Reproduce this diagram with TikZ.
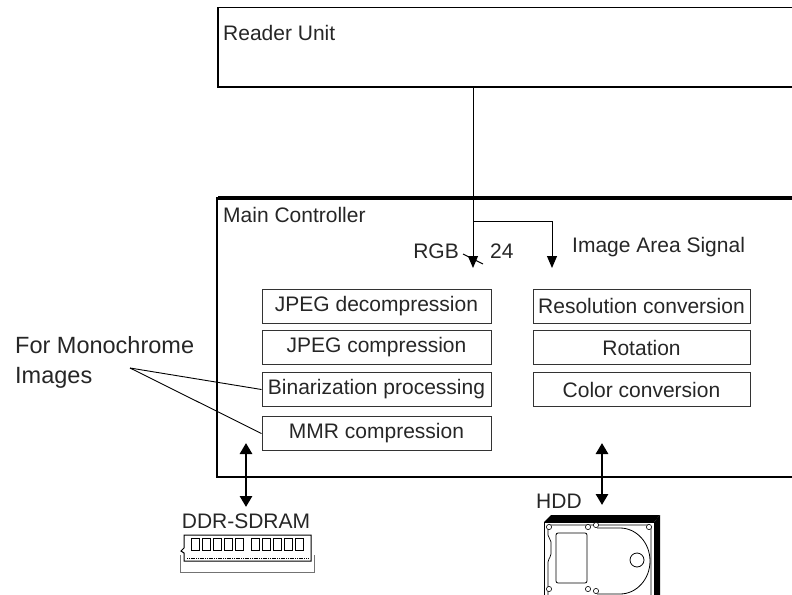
\documentclass[tikz,border=0pt]{standalone}
\usepackage{fontspec}
\setmainfont{Liberation Sans}
\usetikzlibrary{arrows.meta}

\begin{document}
\begin{tikzpicture}[x=1pt,y=-1pt,
  every node/.style={font=\fontsize{21}{24}\selectfont, inner sep=0pt, text=black!85},
  procbox/.style={draw=black!80, line width=1pt, minimum height=34pt},
  leftbox/.style={procbox, minimum width=229pt},
  rightbox/.style={procbox, minimum width=217pt},
  sig/.style={line width=1pt, -{Triangle[length=12pt,width=10pt]}},
  busarrow/.style={line width=2.8pt, {Triangle[length=11pt,width=12pt]}-{Triangle[length=11pt,width=12pt]}}]
\useasboundingbox (0,0) rectangle (792,594);
\clip (0,0) rectangle (792,594);

\node[draw, line width=1.5pt, anchor=north west, minimum width=600pt, minimum height=79pt] (reader) at (217,7) {};
\node[anchor=base west] (readerlbl) at (223,41) {Reader Unit};

\draw[line width=1.5pt] (800,198) -- (217,198) -- (217,477) -- (800,477);
\draw[line width=3.5pt] (218,198) -- (800,198);
\node[anchor=base west] (mainlbl) at (223,222) {Main Controller};

\coordinate (rgbin) at (473,86);
\coordinate (branch) at (473,221);
\coordinate (rgbtip) at (473,268);
\coordinate (areatip) at (552,268);
\draw[sig] (rgbin) -- (rgbtip);
\draw[sig] (branch) -| (areatip);
\draw[line width=0.9pt] (463,254) -- (483,264);
\node[anchor=base east] (rgb) at (459,258) {RGB};
\node[anchor=base west] (width) at (490,258) {24};
\node[anchor=base west] (area) at (572,252) {Image Area Signal};

\node[leftbox] (jpegdec) at (376.5,306) {JPEG decompression};
\node[leftbox] (jpegcomp) at (376.5,347.5) {JPEG compression};
\node[leftbox] (binar) at (376.5,389.5) {Binarization processing};
\node[leftbox] (mmr) at (376.5,433.5) {MMR compression};

\node[rightbox] (resol) at (641.5,306) {Resolution conversion};
\node[rightbox] (rot) at (641.5,347.5) {Rotation};
\node[rightbox] (color) at (641.5,389.5) {Color conversion};

\node[anchor=base west, font=\fontsize{23.5}{27}\selectfont] (mono) at (15,353) {For Monochrome};
\node[anchor=base west, font=\fontsize{23.5}{27}\selectfont] (monoimg) at (15,383) {Images};
\coordinate (monotip) at (130,368);
\draw[line width=0.9pt] (monotip) -- (binar.west);
\draw[line width=0.9pt] (monotip) -- (mmr.west);

\coordinate (ddrtop) at (246,443);
\coordinate (ddrbot) at (246,507);
\draw[busarrow] (ddrtop) -- (ddrbot);
\node (ddr) at (246,521) {DDR-SDRAM};

\coordinate (hddtop) at (602,443);
\coordinate (hddbot) at (602,505);
\draw[busarrow] (hddtop) -- (hddbot);
\node[anchor=base west] (hdd) at (536,508) {HDD};

% memory module
\draw[black!55, line width=0.8pt] (180,555) -- (180,572) -- (314,572) -- (314,555);
\draw[line width=1pt] (184,535) -- (311,535) -- (311,561) -- (184,561) -- (184,553) -- (181,551) -- (184,548) -- cycle;
\foreach \i in {0,...,4} {
  \draw[line width=0.9pt] (191+\i*11,538.5) rectangle ++(8,12);
  \draw[line width=0.9pt] (251+\i*11,538.5) rectangle ++(8,12);
}
\draw[line width=1.6pt, dash pattern=on 1.2pt off 0.6pt] (187,558.5) -- (309,558.5);

% hard disk
\fill (544,522) -- (551,515) -- (660,515) -- (654,522) -- cycle;
\fill (654,522) -- (660,515) -- (660,600) -- (654,600) -- cycle;
\draw[line width=1pt] (544,522) rectangle (654,600);
\draw[line width=0.7pt, rounded corners=2pt] (548,525) -- (651,525) -- (651,600) -- (548,600) -- (548,560) -- (551,556) -- (551,540) -- (548,537) -- cycle;
\draw[line width=0.8pt, rounded corners=2pt] (556,533) rectangle (587,583);
\draw[line width=0.8pt] (597,528) -- (620,528) arc[start angle=-90, end angle=90, x radius=30, y radius=33] -- (597,594);
\draw[line width=0.8pt] (637,560) circle[radius=7];
\foreach \p in {(549,527),(588,527),(596,525),(649,527),(549,589),(588,589),(596,591)}
  \draw[line width=0.6pt, fill=white] \p circle[radius=2.6];
\end{tikzpicture}
\end{document}
